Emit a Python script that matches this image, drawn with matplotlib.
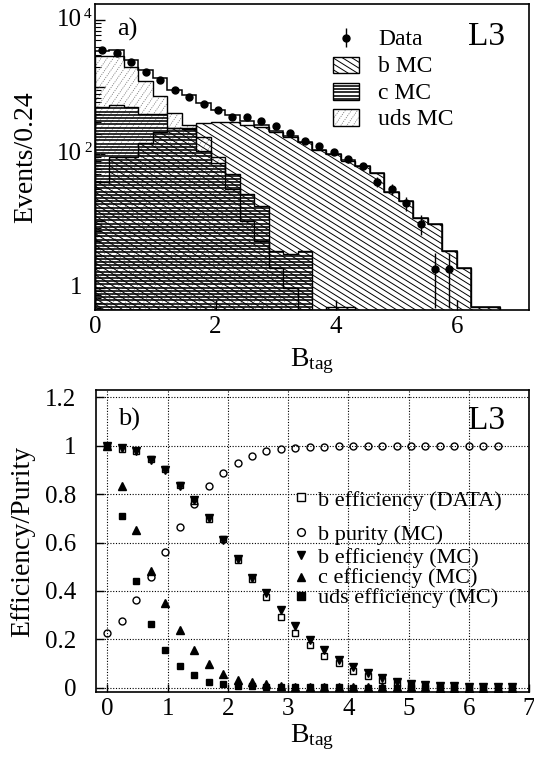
import numpy as np
import matplotlib
matplotlib.use('Agg')
import matplotlib.pyplot as plt
from matplotlib.collections import LineCollection
from matplotlib.patches import Rectangle, PathPatch
from matplotlib.path import Path
from matplotlib.ticker import FixedLocator, NullFormatter, LogLocator
from matplotlib.transforms import offset_copy, blended_transform_factory

plt.rcParams['font.family'] = ['Liberation Serif', 'DejaVu Serif']
plt.rcParams['mathtext.fontset'] = 'custom'
plt.rcParams['mathtext.rm'] = 'Liberation Serif'
plt.rcParams['mathtext.it'] = 'Liberation Serif:italic'
plt.rcParams['mathtext.default'] = 'regular'

# ---------------- data: panel a) ----------------
bin_width = 0.24
data_centers = [0.12, 0.36, 0.60, 0.84, 1.08, 1.32, 1.56, 1.80, 2.04, 2.28, 2.52, 2.76,
                3.00, 3.24, 3.48, 3.72, 3.96, 4.20, 4.44, 4.68, 4.92, 5.16, 5.40, 5.64, 5.88]
data_counts = [3570, 3250, 2390, 1690, 1270, 902, 716, 552, 454, 361, 353, 314,
               262, 204, 156, 132, 108, 84, 66, 39, 30, 18.4, 9.2, 1.9, 1.9]
data_err = [60, 57, 49, 41, 36, 30, 27, 23, 21, 19, 19, 18,
            16, 14, 12.5, 11.5, 10.4, 9.2, 8.1, 6.2, 5.5, 4.3, 3.0, 1.4, 1.4]
b_mc = [38, 90, 90, 145, 215, 245, 245, 295, 300, 300, 275, 255, 215, 180,
        150, 115, 100, 80, 66, 53, 27, 20, 11, 8.9, 3.6, 1.96, 0.52, 0.52]
c_mc = [500, 540, 500, 395, 395, 250, 235, 110, 74, 50, 25, 17, 3.6, 3.2, 3.6, 0, 0.53, 0.53]
uds_mc = [2950, 2950, 1980, 1240, 740, 415, 275, 180, 90, 30, 10, 5, 2, 1]

# ---------------- data: panel b) ----------------
cuts = [0.00, 0.24, 0.48, 0.72, 0.96, 1.20, 1.44, 1.68, 1.92, 2.16, 2.40, 2.64, 2.88, 3.12,
        3.36, 3.60, 3.84, 4.08, 4.32, 4.56, 4.80, 5.04, 5.28, 5.52, 5.76, 6.00, 6.24, 6.48, 6.72]
b_eff_data = [1.0, 0.988, 0.978, 0.945, 0.903, 0.840, 0.773, 0.696, 0.613, 0.527, 0.451, 0.373,
              0.292, 0.224, 0.175, 0.130, 0.100, 0.070, 0.050, 0.032, 0.020, 0.012, 0.008,
              0.006, 0.005, 0.004, 0.003, 0.003, 0.002]
b_eff_mc = [1.0, 0.990, 0.980, 0.940, 0.900, 0.835, 0.775, 0.700, 0.612, 0.530, 0.455, 0.393,
            0.320, 0.254, 0.199, 0.155, 0.113, 0.085, 0.060, 0.040, 0.025, 0.015, 0.010,
            0.007, 0.005, 0.004, 0.003, 0.003, 0.002]
b_purity = [0.224, 0.276, 0.361, 0.458, 0.559, 0.663, 0.759, 0.834, 0.889, 0.930, 0.959, 0.978,
            0.987, 0.992, 0.995, 0.997, 0.998, 0.998, 0.999, 0.999, 0.999, 0.999, 0.998, 0.998,
            0.999, 0.999, 0.998, 0.998]
c_eff = [1.0, 0.834, 0.651, 0.482, 0.350, 0.240, 0.155, 0.097, 0.058, 0.033, 0.023, 0.014,
         0.006, 0.004, 0.002, 0.002, 0.001, 0.001, 0.001, 0.001, 0.001, 0.001, 0.001,
         0.0, 0.0, 0.0, 0.0, 0.0, 0.0]
uds_eff = [1.0, 0.709, 0.440, 0.262, 0.157, 0.089, 0.051, 0.023, 0.014, 0.008, 0.005, 0.003,
           0.002, 0.002, 0.001, 0.001, 0.001, 0.0, 0.0, 0.0, 0.0, 0.0, 0.0, 0.0, 0.0, 0.0,
           0.0, 0.0, 0.0]

legend_a = ['Data', 'b MC', 'c MC', 'uds MC']
legend_b = ['b efficiency (DATA)', 'b purity (MC)', 'b efficiency (MC)',
            'c efficiency (MC)', 'uds efficiency (MC)']

# ---------------- figure ----------------
FW, FH = 534, 764
fig = plt.figure(figsize=(FW / 100, FH / 100), dpi=100)


def px_axes(l, t, r, b):
    return fig.add_axes([l / FW, 1 - b / FH, (r - l) / FW, (b - t) / FH])


def hatch(ax, clip, angle, spacing, lw, color='k', ls='-', z=2):
    W = ax.bbox.width
    H = ax.bbox.height
    th = np.deg2rad(angle)
    d = np.array([np.cos(th), np.sin(th)])
    n = np.array([-np.sin(th), np.cos(th)])
    corners = np.array([[0, 0], [W, 0], [0, H], [W, H]])
    proj = corners @ n
    L = W + H
    segs = []
    for c in np.arange(proj.min(), proj.max() + spacing, spacing):
        p0 = c * n - L * d
        p1 = c * n + L * d
        segs.append([(p0[0] / W, p0[1] / H), (p1[0] / W, p1[1] / H)])
    lc = LineCollection(segs, colors=color, linewidths=lw, linestyles=ls,
                        transform=ax.transAxes, zorder=z)
    ax.add_collection(lc)
    lc.set_clip_path(clip)
    return lc


def axes_poly(ax, xs, ys):
    pts = ax.transData.transform(np.column_stack([xs, ys]))
    pts = ax.transAxes.inverted().transform(pts)
    pts = np.vstack([pts, pts[:1]])
    p = PathPatch(Path(pts, closed=True), transform=ax.transAxes,
                  facecolor='none', edgecolor='none', zorder=0)
    ax.add_patch(p)
    return p


STYLE = {
    'uds': dict(angle=55, spacing=5.0, lw=0.55, color='0.45', ls=(0, (1.5, 1.5))),
    'c': dict(angle=0, spacing=3.2, lw=1.15, color='k', ls='-'),
    'b': dict(angle=-32, spacing=5.0, lw=0.7, color='k', ls='-'),
}


def draw_hist(ax, vals, key, base):
    vals = np.maximum(np.asarray(vals, float), base)
    edges = np.arange(len(vals) + 1) * bin_width
    xs = [edges[0]]
    ys = [base]
    for i, v in enumerate(vals):
        xs += [edges[i], edges[i + 1]]
        ys += [v, v]
    xs.append(edges[-1])
    ys.append(base)
    clip = axes_poly(ax, xs, ys)
    hatch(ax, clip, **STYLE[key])
    ax.stairs(vals, edges, baseline=base, fill=False, color='k', lw=1.0, zorder=3)


# ---------------- panel a ----------------
ax1 = px_axes(95, 4, 529, 310)
ax1.set_yscale('log')
YLO, YHI = 0.47, 1.75e4
ax1.set_xlim(0, 7.2)
ax1.set_ylim(YLO, YHI)

draw_hist(ax1, uds_mc, 'uds', YLO)
draw_hist(ax1, c_mc, 'c', YLO)
draw_hist(ax1, b_mc, 'b', YLO)

nmax = max(len(b_mc), len(c_mc), len(uds_mc))
tot = np.zeros(nmax)
for arr in (b_mc, c_mc, uds_mc):
    tot[:len(arr)] += np.asarray(arr, float)
tot_edges = np.arange(nmax + 1) * bin_width
ax1.stairs(np.maximum(tot, YLO), tot_edges, baseline=YLO, fill=False, color='k', lw=1.1, zorder=4)

ax1.errorbar(data_centers, data_counts, yerr=data_err, fmt='o', color='k', ms=5,
             elinewidth=1.0, capsize=0, zorder=6)

# legend a
lx0, lx1 = 3.95, 4.38
ax1.errorbar([4.17], [10 ** 3.74], yerr=[[10 ** 3.74 - 10 ** 3.60], [10 ** 3.88 - 10 ** 3.74]],
             fmt='o', color='k', ms=5, elinewidth=1.0, capsize=0, zorder=6)
rows_a = [3.627, 3.228, 2.831, 2.433]
box_c = [3.33, 2.94, 2.55]
for txt, yb in zip(legend_a, rows_a):
    ax1.text(4.70, 10 ** yb, txt, fontsize=17, ha='left', va='baseline', zorder=7)
for key, yc in zip(['b', 'c', 'uds'], box_c):
    y0, y1 = 10 ** (yc - 0.125), 10 ** (yc + 0.125)
    xs = [lx0, lx1, lx1, lx0]
    ys = [y0, y0, y1, y1]
    ax1.fill(xs, ys, facecolor='white', edgecolor='none', zorder=5)
    clip = axes_poly(ax1, xs, ys)
    hatch(ax1, clip, z=6, **STYLE[key])
    ax1.add_patch(Rectangle((lx0, y0), lx1 - lx0, y1 - y0, facecolor='none',
                            edgecolor='k', lw=1.0, zorder=7))

ax1.text(0.36, 10 ** 3.776, 'a)', fontsize=19, ha='left', va='baseline')
ax1.text(6.19, 10 ** 3.627, 'L3', fontsize=24, ha='left', va='baseline')

ax1.xaxis.set_major_locator(FixedLocator([0, 2, 4, 6]))
ax1.set_xticklabels(['0', '2', '4', '6'], fontsize=18)
ax1.yaxis.set_major_locator(FixedLocator([1, 10, 100, 1000, 10000]))
ax1.yaxis.set_major_formatter(NullFormatter())
ax1.yaxis.set_minor_locator(LogLocator(base=10, subs=np.arange(2, 10)))
ax1.yaxis.set_minor_formatter(NullFormatter())
ax1.tick_params(axis='both', which='major', direction='in', length=7, width=1.0, pad=5)
ax1.tick_params(axis='both', which='minor', direction='in', length=4, width=0.8)
ax1.tick_params(axis='x', pad=4)

tr = blended_transform_factory(ax1.transAxes, ax1.transData)
tr_main = offset_copy(tr, fig=fig, x=-13, y=0, units='dots')
tr_sup = offset_copy(tr, fig=fig, x=-11, y=2, units='dots')
ax1.text(0, 1, '1', transform=tr_main, ha='right', va='center', fontsize=18)
for v, s in [(100, '2'), (10000, '4')]:
    ax1.text(0, v, '10', transform=tr_main, ha='right', va='center', fontsize=18)
    ax1.text(0, v, s, transform=tr_sup, ha='left', va='baseline', fontsize=11)

ax1.set_xlabel(r'B$_{\rm tag}$', fontsize=20, labelpad=6)
ax1.set_ylabel('Events/0.24', fontsize=20)
ax1.yaxis.set_label_coords(-0.13, 0.5)
for sp in ax1.spines.values():
    sp.set_linewidth(1.2)
    sp.set_zorder(8)

# ---------------- panel b ----------------
ax2 = px_axes(96, 390, 529, 692)
ax2.set_xlim(-0.19, 7.0)
ax2.set_ylim(-0.018, 1.231)
ax2.set_xticks(range(8))
ax2.set_xticklabels([str(i) for i in range(8)], fontsize=18)
yt = [0, 0.2, 0.4, 0.6, 0.8, 1.0, 1.2]
ax2.set_yticks(yt)
ax2.set_yticklabels(['0', '0.2', '0.4', '0.6', '0.8', '1', '1.2'], fontsize=18)
ax2.grid(True, ls=(0, (1, 1.5)), color='k', lw=0.8)
ax2.set_axisbelow(True)
ax2.tick_params(axis='both', direction='in', length=6, width=1.0)
ax2.tick_params(axis='y', pad=14)
ax2.tick_params(axis='x', pad=4)

ms_sq, ms_c, ms_t = 4.8, 5.0, 5.8
ax2.plot(cuts, b_eff_mc, 'v', color='k', ms=ms_t, ls='none', zorder=4)
ax2.plot(cuts, b_eff_data, 's', mfc='none', mec='k', mew=1.0, ms=ms_sq, ls='none', zorder=5)
ax2.plot(cuts[:len(b_purity)], b_purity, 'o', mfc='none', mec='k', mew=1.0, ms=ms_c, ls='none', zorder=5)
ax2.plot(cuts, c_eff, '^', color='k', ms=ms_t, ls='none', zorder=4)
ax2.plot(cuts, uds_eff, 's', color='k', ms=ms_sq, ls='none', zorder=6)

# legend b
sym_x, txt_x = 3.21, 3.50
sym_y = [0.788, 0.644, 0.548, 0.459, 0.377]
txt_y = [0.753, 0.610, 0.516, 0.432, 0.349]
sym_style = [dict(marker='s', mfc='white', mec='k', mew=1.0, ms=ms_sq + 0.6),
             dict(marker='o', mfc='white', mec='k', mew=1.0, ms=ms_c + 0.6),
             dict(marker='v', color='k', ms=ms_t + 0.4),
             dict(marker='^', color='k', ms=ms_t + 0.4),
             dict(marker='s', color='k', ms=ms_sq + 0.6)]
for lab, sy, ty, st in zip(legend_b, sym_y, txt_y, sym_style):
    ax2.plot([sym_x], [sy], ls='none', zorder=7, **st)
    ax2.text(txt_x, ty, lab, fontsize=16, ha='left', va='baseline', zorder=7)

ax2.text(0.18, 1.082, 'b)', fontsize=19, ha='left', va='baseline')
ax2.text(5.98, 1.068, 'L3', fontsize=24, ha='left', va='baseline')

ax2.set_xlabel(r'B$_{\rm tag}$', fontsize=20, labelpad=2)
ax2.set_ylabel('Efficiency/Purity', fontsize=20)
ax2.yaxis.set_label_coords(-0.14, 0.5)
for sp in ax2.spines.values():
    sp.set_linewidth(1.2)

fig.savefig('out.png', dpi=100)
